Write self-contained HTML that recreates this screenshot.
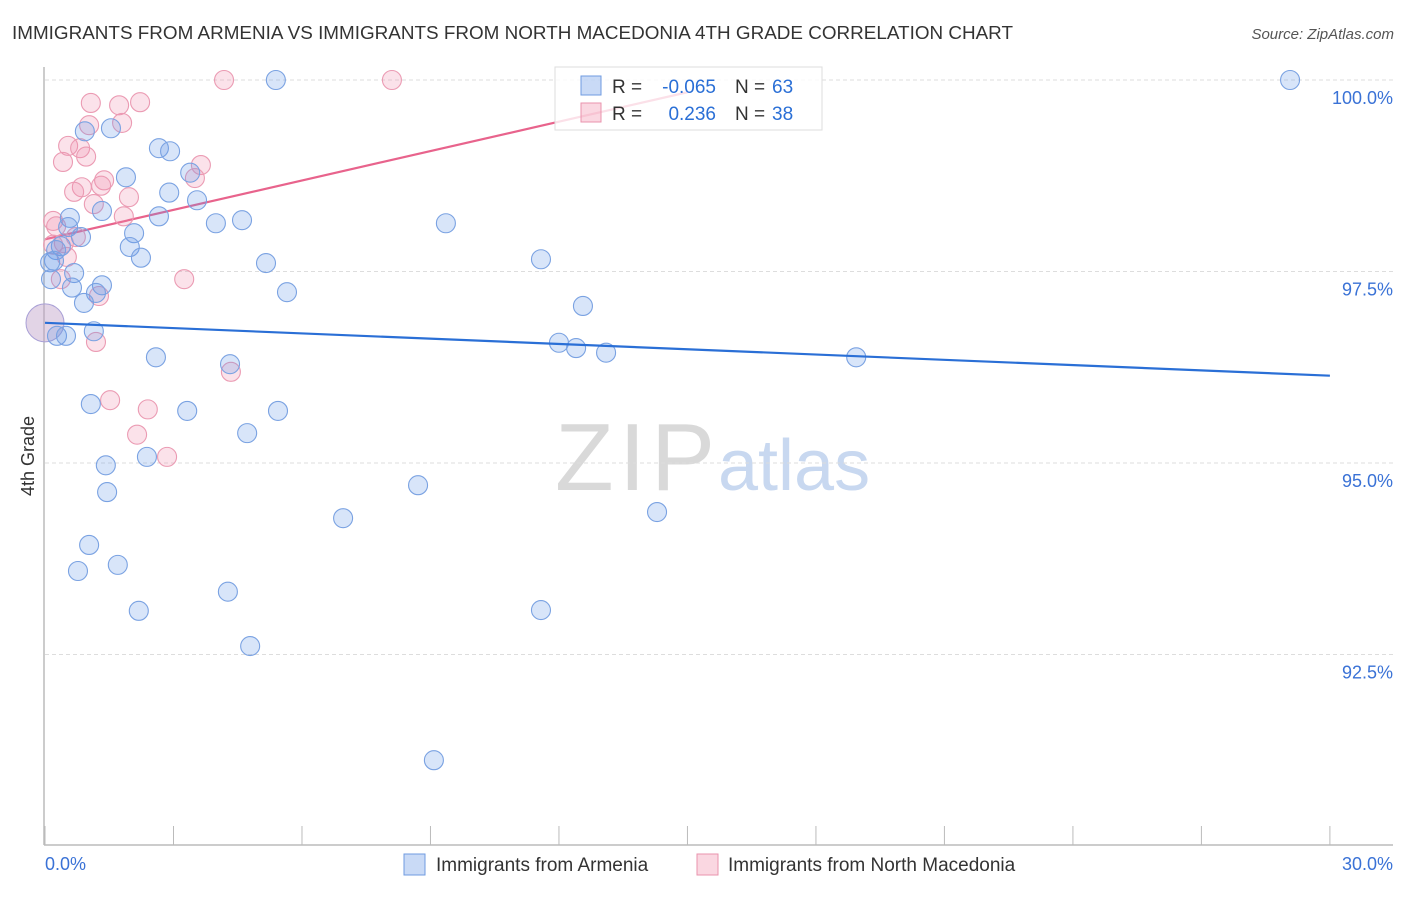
<!DOCTYPE html>
<html><head><meta charset="utf-8"><style>
body{margin:0;background:#fff;font-family:"Liberation Sans",sans-serif}
svg text{font-family:"Liberation Sans",sans-serif}
</style></head><body>
<svg id="chart" width="1406" height="892" viewBox="0 0 1406 892" xmlns="http://www.w3.org/2000/svg">
<text x="12" y="39" font-size="18" fill="#333" textLength="1001" lengthAdjust="spacingAndGlyphs">IMMIGRANTS FROM ARMENIA VS IMMIGRANTS FROM NORTH MACEDONIA 4TH GRADE CORRELATION CHART</text>
<text x="1394" y="39" font-size="15" fill="#555" font-style="italic" text-anchor="end">Source: ZipAtlas.com</text>
<g>
<text x="555" y="490" font-size="96" fill="#d9d9d9" font-family="Liberation Serif" textLength="160">ZIP</text>
<text x="718" y="490" font-size="72" fill="#c8d8f0">atlas</text>
</g>
<g id="grid"></g>
<g id="axes"></g>
<g id="lines"></g>
<g id="pts"></g>
<text transform="translate(34,456) rotate(-90)" font-size="18" fill="#333" text-anchor="middle">4th Grade</text>
<g>
<rect x="555" y="67" width="267" height="63" fill="rgba(255,255,255,0.8)" stroke="#ddd"/>
<rect x="581" y="76" width="20" height="19" fill="rgba(100,150,230,0.35)" stroke="#6f9be0"/>
<rect x="581" y="103" width="20" height="19" fill="rgba(240,140,170,0.35)" stroke="#ea93ad"/>
<text x="612" y="93" font-size="19" fill="#333">R =</text>
<text x="716" y="93" font-size="19" fill="#2a6fd6" text-anchor="end">-0.065</text>
<text x="735" y="93" font-size="19" fill="#333">N =</text>
<text x="772" y="93" font-size="19" fill="#2a6fd6">63</text>
<text x="612" y="120" font-size="19" fill="#333">R =</text>
<text x="716" y="120" font-size="19" fill="#2a6fd6" text-anchor="end">0.236</text>
<text x="735" y="120" font-size="19" fill="#333">N =</text>
<text x="772" y="120" font-size="19" fill="#2a6fd6">38</text>
</g>
<g>
<rect x="404" y="854" width="21" height="21" fill="rgba(100,150,230,0.35)" stroke="#6f9be0"/>
<text x="436" y="871" font-size="19" fill="#333">Immigrants from Armenia</text>
<rect x="697" y="854" width="21" height="21" fill="rgba(240,140,170,0.35)" stroke="#ea93ad"/>
<text x="728" y="871" font-size="19" fill="#333">Immigrants from North Macedonia</text>
</g>
</svg>
<script>
const blueX=[5.39,29.07,0.93,1.54,2.66,2.92,1.89,3.39,2.90,3.55,1.33,0.58,2.66,3.99,4.60,9.36,0.54,0.84,2.08,0.37,1.98,0.26,2.24,0.21,0.12,5.16,11.58,0.68,0.14,1.33,0.63,1.19,5.65,0.91,12.56,1.14,0.28,0.49,12.0,12.4,13.1,18.94,2.59,4.32,1.07,3.32,5.44,4.72,2.38,1.42,8.71,1.45,6.96,14.29,1.03,0.77,1.70,4.27,2.19,11.58,4.79,9.08];
const blueY=[100.0,100.0,99.33,99.37,99.11,99.07,98.73,98.79,98.53,98.43,98.29,98.20,98.22,98.13,98.17,98.13,98.08,97.95,98.00,97.83,97.82,97.78,97.68,97.64,97.62,97.61,97.66,97.48,97.40,97.32,97.29,97.22,97.23,97.09,97.05,96.72,96.66,96.66,96.57,96.50,96.44,96.38,96.38,96.29,95.77,95.68,95.68,95.39,95.08,94.97,94.71,94.62,94.28,94.36,93.93,93.59,93.67,93.32,93.07,93.08,92.61,91.12];
const pinkX=[4.18,8.10,1.07,1.73,2.22,1.03,1.80,0.54,0.82,0.96,0.42,3.64,3.50,1.38,0.86,0.68,1.31,1.96,1.14,1.84,0.19,0.26,0.72,0.44,0.19,0.51,0.37,1.26,3.25,1.19,4.34,1.52,2.40,2.15,2.85];
const pinkY=[100.0,100.0,99.70,99.67,99.71,99.41,99.44,99.14,99.11,99.00,98.93,98.89,98.72,98.69,98.60,98.54,98.62,98.47,98.38,98.22,98.16,98.09,97.95,97.87,97.85,97.69,97.40,97.18,97.40,96.58,96.19,95.82,95.70,95.37,95.08];
const bigPoint=[0,96.83];
const blueTrend=[[0,96.83],[30,96.14]];
const pinkTrend=[[0,97.92],[15,99.84]];
const yTicks=[100,97.5,95,92.5];
const yTickLabels=["100.0%","97.5%","95.0%","92.5%"];
const xTicks=[0,3,6,9,12,15,18,21,24,27,30];

const NS="http://www.w3.org/2000/svg";
const X=v=>45+v*42.83;
const Y=v=>80+(100-v)*76.6;
function mk(tag,attrs,parent){const e=document.createElementNS(NS,tag);for(const k in attrs)e.setAttribute(k,attrs[k]);parent.appendChild(e);return e;}
const grid=document.getElementById('grid'),axes=document.getElementById('axes'),lines=document.getElementById('lines'),pts=document.getElementById('pts');
yTicks.forEach((t,i)=>{
 const l=mk('line',{x1:45,x2:1393,y1:Y(t),y2:Y(t),stroke:'#ddd','stroke-dasharray':'4,3'},grid);
 
 
 const tx=mk('text',{x:1393,y:Y(t)+24,'font-size':18,fill:'#3a72d6','text-anchor':'end'},grid);
 tx.textContent=yTickLabels[i];
 
 
});
const ya=mk('line',{x1:44,x2:44,y1:67,y2:845,stroke:'#bbb','stroke-width':1.5},axes);


const xa=mk('line',{x1:44,x2:1393,y1:845,y2:845,stroke:'#bbb','stroke-width':1.5},axes);


xTicks.forEach(t=>{
 const k=mk('line',{x1:X(t),x2:X(t),y1:826,y2:845,stroke:'#bbb'},axes);
 
 
});
const xl0=mk('text',{x:45,y:870,'font-size':18,fill:'#3a72d6'},axes);xl0.textContent='0.0%';


const xl1=mk('text',{x:1393,y:870,'font-size':18,fill:'#3a72d6','text-anchor':'end'},axes);xl1.textContent='30.0%';



const bc=mk('circle',{cx:X(bigPoint[0]),cy:Y(bigPoint[1]),r:19,fill:'rgba(190,160,200,0.45)',stroke:'#a9a0d6'},pts);


pinkX.forEach((x,i)=>{
 const c=mk('circle',{cx:X(x),cy:Y(pinkY[i]),r:9.5,fill:'rgba(240,140,170,0.25)',stroke:'#eb9bb3','stroke-width':1.1},pts);
 
 
});
blueX.forEach((x,i)=>{
 const c=mk('circle',{cx:X(x),cy:Y(blueY[i]),r:9.5,fill:'rgba(100,150,230,0.25)',stroke:'#7aa2e2','stroke-width':1.1},pts);
 
 
});
const bl=mk('line',{x1:X(blueTrend[0][0]),y1:Y(blueTrend[0][1]),x2:X(blueTrend[1][0]),y2:Y(blueTrend[1][1]),stroke:'#2a6fd6','stroke-width':2.2},pts);


const pl=mk('line',{x1:X(pinkTrend[0][0]),y1:Y(pinkTrend[0][1]),x2:X(pinkTrend[1][0]),y2:Y(pinkTrend[1][1]),stroke:'#e8638c','stroke-width':2.2},lines);


</script>
</body></html>
